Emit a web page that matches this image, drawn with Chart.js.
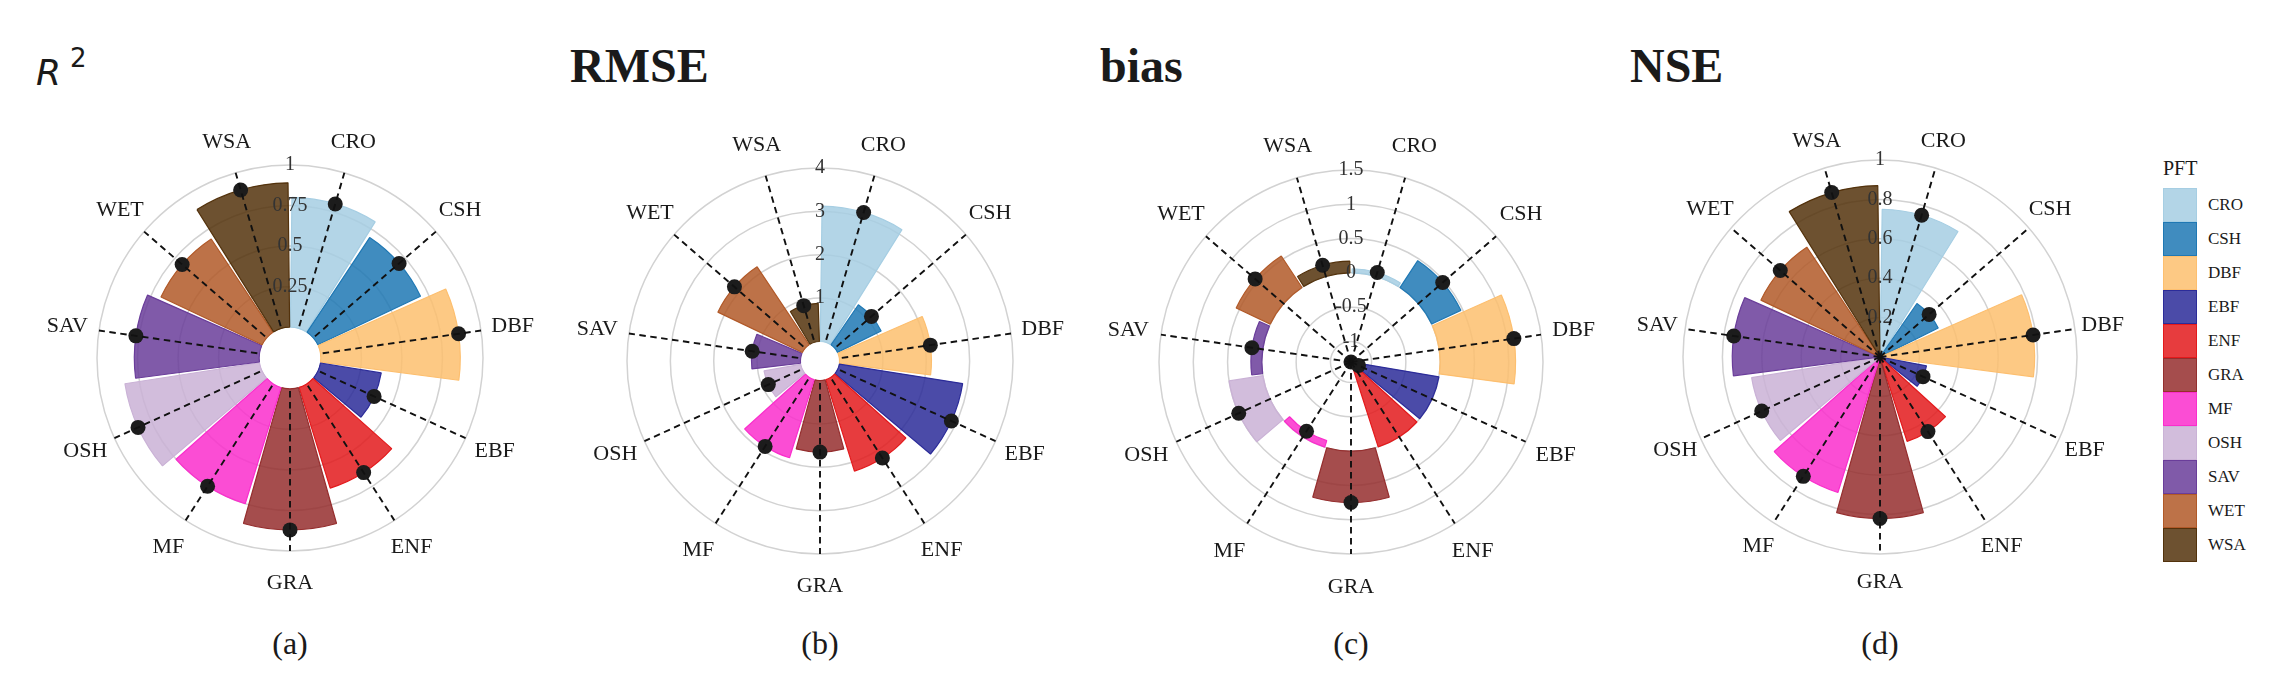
<!DOCTYPE html>
<html>
<head>
<meta charset="utf-8">
<title>PFT metrics</title>
<script src="https://cdn.jsdelivr.net/npm/chart.js@4.4.1/dist/chart.umd.min.js"></script>
<style>
  html, body { margin: 0; padding: 0; background: #fff; }
  #page { position: relative; width: 2283px; height: 678px; overflow: hidden; background: #fff; }
  #page canvas { position: absolute; }
  .txt { position: absolute; line-height: 1; color: #1a1a1a; white-space: nowrap; }
  .title { font-family: 'Liberation Serif', serif; font-weight: bold; font-size: 48px; }
  .tag { width: 100px; text-align: center; font-family: 'Liberation Serif', serif; font-size: 32px; }
  .swatch { position: absolute; width: 32px; height: 32px; border: 1px solid; }
  .leg { font-family: 'Liberation Serif', serif; font-size: 17px; }
</style>
</head>
<body>
<div id="page"></div>
<script>
// Plant functional types and their colours
const pftLabels = ['CRO', 'CSH', 'DBF', 'EBF', 'ENF', 'GRA', 'MF', 'OSH', 'SAV', 'WET', 'WSA'];
const pftColors = ['#a6cee3', '#1f78b4', '#fdbf6f', '#2c2c99', '#e31a1c', '#952e2e',
                   '#fa2ecc', '#cab2d6', '#6a3d9a', '#b15928', '#53320c'];

// Metric values per PFT
const r2Values   = [0.80, 0.70, 0.86, 0.38, 0.65, 0.87, 0.75, 0.84, 0.77, 0.69, 0.89];
const rmseValues = [3.12, 1.12, 2.12, 2.88, 2.21, 1.65, 1.89, 0.86, 1.13, 2.16, 0.88];
const biasValues = [0.06, 0.47, 1.10, -1.18, -1.30, 0.75, -0.10, 0.50, 0.16, 0.55, 0.17];
const nseValues  = [0.75, 0.33, 0.785, 0.24, 0.45, 0.82, 0.72, 0.66, 0.75, 0.67, 0.87];

// Radial axis ranges and tick labels
const r2Range   = [-0.19, 1];
const rmseRange = [-0.45, 4];
const biasRange = [-1.3, 1.5];
const nseRange  = [0, 1];
const r2Ticks   = [0.25, 0.5, 0.75, 1];
const rmseTicks = [1, 2, 3, 4];
const biasTicks = [-1, -0.5, 0, 0.5, 1, 1.5];
const nseTicks  = [0, 0.2, 0.4, 0.6, 0.8, 1];

Chart.defaults.font.family = "'Liberation Serif', serif";
Chart.defaults.color = '#1a1a1a';

const page = document.getElementById('page');
const CW = 530, CH = 520;

function withAlpha(hex, a) {
    const n = parseInt(hex.slice(1), 16);
    return `rgba(${(n >> 16) & 255}, ${(n >> 8) & 255}, ${n & 255}, ${a})`;
}

// bars start at r = 0 (not at the axis minimum), like a matplotlib polar bar
const barBase = {
    id: 'barBase',
    beforeDatasetDraw(chart, args) {
        const meta = args.meta;
        if (meta.type !== 'polarArea') return;
        const scale = meta.rScale;
        const half = (meta.controller.getDataset().spacing || 0) / 2;
        const dist = v => Math.max(scale.getDistanceFromCenterForValue(v), 0);
        const base = dist(0);
        meta.data.forEach((arc, i) => {
            const top = dist(meta.controller.getParsed(i).r);
            const lo = Math.min(base, top);
            const hi = Math.max(base, top);
            arc.innerRadius = lo - half > 0 ? lo - half : 0;
            arc.outerRadius = Math.max(hi - half, 0);
        });
    }
};

// white hole in the middle and the PFT names on the spokes
const spokeDecor = {
    id: 'spokeDecor',
    afterDraw(chart, args, opts) {
        const ctx = chart.ctx;
        const scale = chart.scales.r2;
        ctx.save();
        if (opts.hole) {
            const r0 = scale.getDistanceFromCenterForValue(0);
            ctx.beginPath();
            ctx.arc(scale.xCenter, scale.yCenter, Math.max(r0 - 1, 0), 0, Math.PI * 2);
            ctx.fillStyle = '#fff';
            ctx.fill();
        }
        ctx.font = '22px "Liberation Serif"';
        ctx.fillStyle = '#1a1a1a';
        ctx.textAlign = 'center';
        ctx.textBaseline = 'middle';
        chart.data.labels.forEach((lab, i) => {
            const p = scale.getPointPosition(i, opts.distance);
            ctx.fillText(lab, p.x, p.y);
        });
        ctx.restore();
    }
};

function makeChart(p) {
    const canvas = document.createElement('canvas');
    canvas.width = CW;
    canvas.height = CH;
    canvas.style.left = (p.cx - CW / 2) + 'px';
    canvas.style.top = (p.cy - CH / 2) + 'px';
    page.appendChild(canvas);

    const side = 2 * p.R + 24;
    const padX = (CW - side) / 2;
    const padY = (CH - side) / 2;
    const tickFont = { family: "'Liberation Serif', serif", size: 20 };

    new Chart(canvas, {
        type: 'polarArea',
        data: {
            labels: pftLabels,
            datasets: [
                {
                    type: 'radar',
                    data: p.values,
                    rAxisID: 'r2',
                    showLine: false,
                    fill: false,
                    backgroundColor: 'transparent',
                    pointRadius: 7.5,
                    pointBackgroundColor: '#1c1c1c',
                    pointBorderWidth: 0,
                    order: 1
                },
                {
                    type: 'polarArea',
                    data: p.values,
                    rAxisID: 'r',
                    backgroundColor: pftColors.map(c => withAlpha(c, 0.85)),
                    borderColor: pftColors,
                    borderWidth: 1.2,
                    spacing: 8,
                    order: 2
                }
            ]
        },
        options: {
            responsive: false,
            animation: false,
            layout: { padding: { left: padX, right: padX, top: padY, bottom: padY } },
            scales: {
                r: {
                    min: p.range[0],
                    max: p.range[1],
                    startAngle: 0,
                    afterBuildTicks: s => { s.ticks = p.ticks.map(v => ({ value: v })); },
                    ticks: {
                        z: 1,
                        font: tickFont,
                        color: '#333',
                        showLabelBackdrop: false,
                        callback: v => String(v)
                    },
                    grid: { circular: true, color: '#d2d2d2', lineWidth: 1.5 },
                    angleLines: { display: false },
                    pointLabels: { display: false }
                },
                r2: {
                    type: 'radialLinear',
                    axis: 'r',
                    min: p.range[0],
                    max: p.range[1],
                    startAngle: 180 / pftLabels.length,
                    ticks: { display: true, font: tickFont, color: 'rgba(0,0,0,0)', showLabelBackdrop: false },
                    grid: { display: false, z: 1 },
                    angleLines: { display: true, color: '#111', lineWidth: 1.9, borderDash: [6.5, 4.5] },
                    pointLabels: { display: false }
                }
            },
            plugins: {
                legend: { display: false },
                tooltip: { enabled: false },
                spokeDecor: { hole: p.hole, distance: 225 }
            }
        },
        plugins: [barBase, spokeDecor]
    });
}

const panels = [
    { values: r2Values,   range: r2Range,   ticks: r2Ticks,   cx: 290,  cy: 358, R: 193, hole: true },
    { values: rmseValues, range: rmseRange, ticks: rmseTicks, cx: 820,  cy: 361, R: 193, hole: true },
    { values: biasValues, range: biasRange, ticks: biasTicks, cx: 1351, cy: 362, R: 192, hole: false },
    { values: nseValues,  range: nseRange,  ticks: nseTicks,  cx: 1880, cy: 357, R: 197, hole: false }
];
panels.forEach(makeChart);

// titles and panel tags
function addText(text, cls, left, top, style) {
    const d = document.createElement('div');
    d.className = 'txt ' + cls;
    d.textContent = text;
    d.style.left = left + 'px';
    d.style.top = top + 'px';
    if (style) Object.assign(d.style, style);
    page.appendChild(d);
    return d;
}

addText('R', '', 36, 55, { fontFamily: "'DejaVu Sans', sans-serif", fontStyle: 'italic', fontSize: '36px' });
addText('2', '', 70, 45, { fontFamily: "'DejaVu Sans', sans-serif", fontSize: '26px' });
addText('RMSE', 'title', 570, 42);
addText('bias', 'title', 1100, 42);
addText('NSE', 'title', 1630, 42);

['(a)', '(b)', '(c)', '(d)'].forEach((t, i) => addText(t, 'tag', panels[i].cx - 50, 627));

// shared legend
addText('PFT', 'leg', 2163, 158, { fontSize: '20px' });
pftLabels.forEach((lab, i) => {
    const top = 188 + 34 * i;
    const sw = document.createElement('div');
    sw.className = 'swatch';
    sw.style.left = '2163px';
    sw.style.top = top + 'px';
    sw.style.background = withAlpha(pftColors[i], 0.85);
    sw.style.borderColor = pftColors[i];
    page.appendChild(sw);
    addText(lab, 'leg', 2208, top + 17 - 9);
});
</script>
</body>
</html>
